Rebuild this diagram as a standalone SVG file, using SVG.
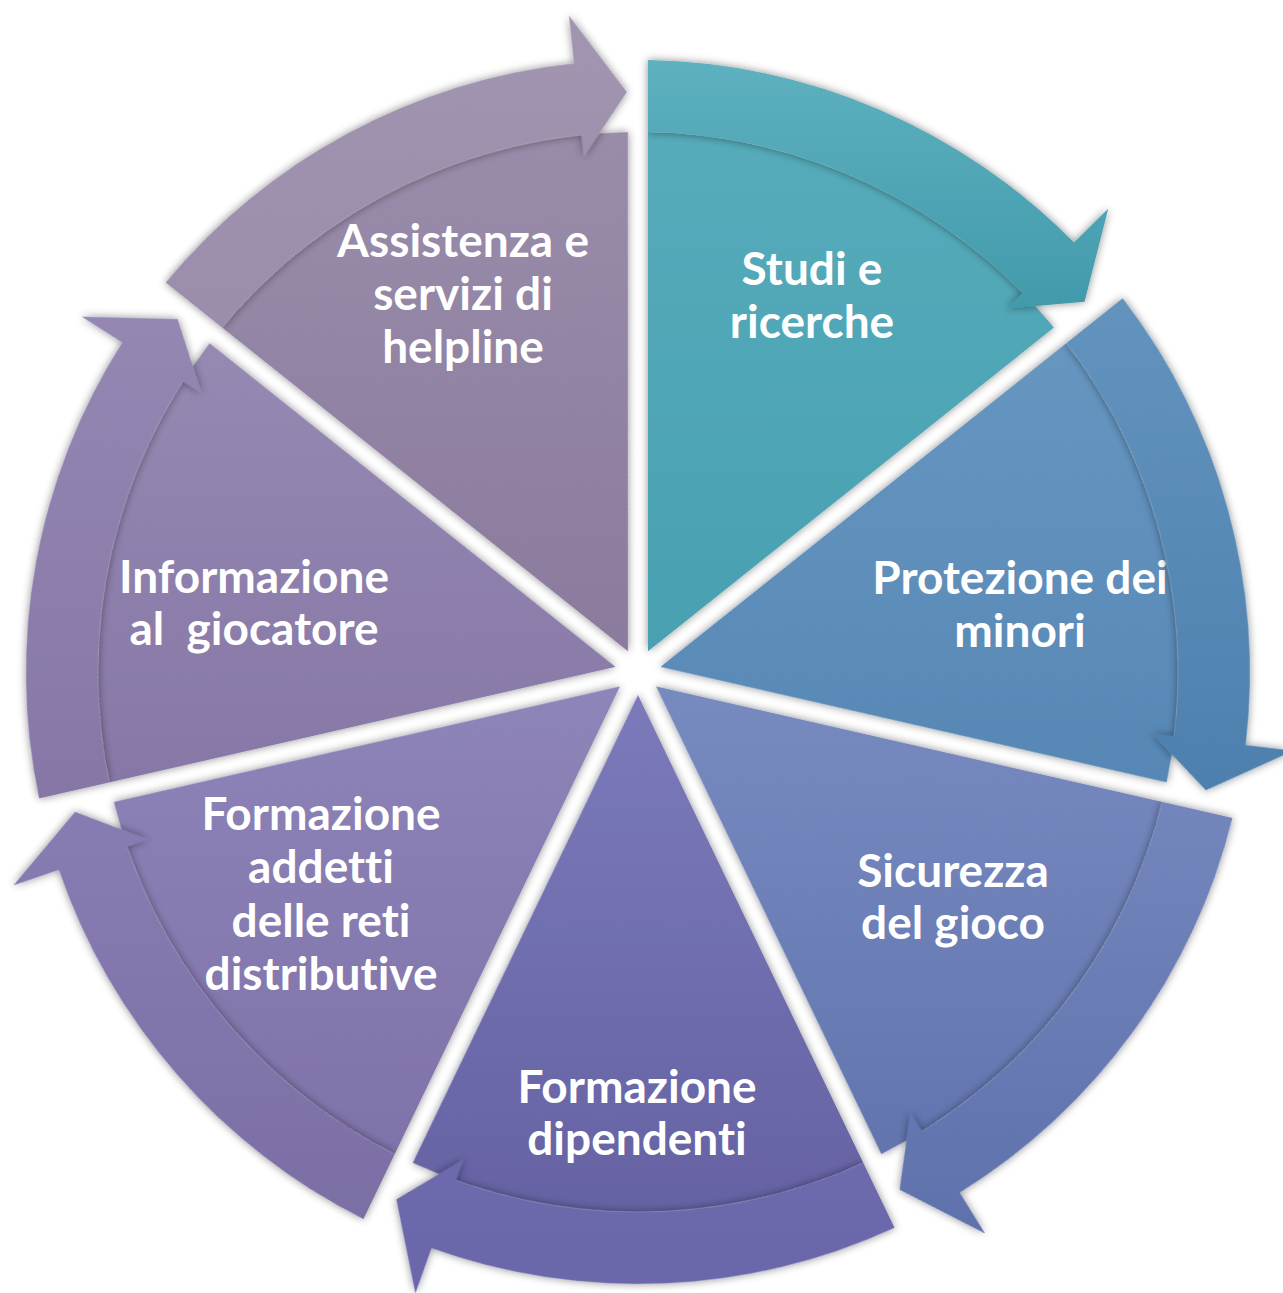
<svg xmlns="http://www.w3.org/2000/svg" xmlns:xlink="http://www.w3.org/1999/xlink" width="1283" height="1293" viewBox="0 0 1283 1293">
<defs>
<style>
.lbl{font-family:"Lato","Open Sans","DejaVu Sans",sans-serif;font-weight:700;font-size:46px;fill:#ffffff;text-anchor:middle;white-space:pre;font-variant-ligatures:none;font-feature-settings:"liga" 0,"clig" 0}
.seg{filter:url(#sh)}
</style>
<filter id="sh" x="-20%" y="-20%" width="140%" height="140%">
<feDropShadow dx="0" dy="0" stdDeviation="4.5" flood-color="#000000" flood-opacity="0.45"/>
</filter>
<path id="wedge" d="M 10,-20.77 L 10,-539.91 A 540 540 0 0 1 415.89,-344.45 Z"/>
<path id="arrow" d="M 10,-611.92 A 612 612 0 0 1 435.99,-429.50 L 470.18,-463.19 L 446.53,-370.17 L 369.02,-363.53 L 384.70,-378.97 A 540 540 0 0 0 10,-539.91 Z"/>
<linearGradient id="w0" gradientUnits="userSpaceOnUse" x1="0" y1="-612" x2="0" y2="-20"><stop offset="0" stop-color="#58adbc"/><stop offset="1" stop-color="#48a0b1"/></linearGradient>
<linearGradient id="a0" gradientUnits="userSpaceOnUse" x1="0" y1="-612" x2="0" y2="-300"><stop offset="0" stop-color="#5eb1bf"/><stop offset="1" stop-color="#3a94a6"/></linearGradient>
<linearGradient id="w1" gradientUnits="userSpaceOnUse" x1="0" y1="-382" x2="0" y2="137" gradientTransform="rotate(-51.4286)"><stop offset="0" stop-color="#6898c2"/><stop offset="1" stop-color="#5686b4"/></linearGradient>
<linearGradient id="a1" gradientUnits="userSpaceOnUse" x1="0" y1="-382" x2="0" y2="137" gradientTransform="rotate(-51.4286)"><stop offset="0" stop-color="#6394bf"/><stop offset="1" stop-color="#4d7fad"/></linearGradient>
<linearGradient id="w2" gradientUnits="userSpaceOnUse" x1="0" y1="0" x2="0" y2="560" gradientTransform="rotate(-102.857)"><stop offset="0" stop-color="#788bc1"/><stop offset="1" stop-color="#5f71ab"/></linearGradient>
<linearGradient id="a2" gradientUnits="userSpaceOnUse" x1="0" y1="0" x2="0" y2="560" gradientTransform="rotate(-102.857)"><stop offset="0" stop-color="#798cc1"/><stop offset="1" stop-color="#5f71ac"/></linearGradient>
<linearGradient id="w3" gradientUnits="userSpaceOnUse" x1="0" y1="20" x2="0" y2="612" gradientTransform="rotate(-154.286)"><stop offset="0" stop-color="#7b7aba"/><stop offset="1" stop-color="#625fa0"/></linearGradient>
<linearGradient id="a3" gradientUnits="userSpaceOnUse" x1="0" y1="20" x2="0" y2="612" gradientTransform="rotate(-154.286)"><stop offset="0" stop-color="#7776b7"/><stop offset="1" stop-color="#6a67aa"/></linearGradient>
<linearGradient id="w4" gradientUnits="userSpaceOnUse" x1="0" y1="0" x2="0" y2="560" gradientTransform="rotate(-205.714)"><stop offset="0" stop-color="#8e85b9"/><stop offset="1" stop-color="#7d6fa6"/></linearGradient>
<linearGradient id="a4" gradientUnits="userSpaceOnUse" x1="0" y1="0" x2="0" y2="560" gradientTransform="rotate(-205.714)"><stop offset="0" stop-color="#8b81b7"/><stop offset="1" stop-color="#7c6ea4"/></linearGradient>
<linearGradient id="w5" gradientUnits="userSpaceOnUse" x1="0" y1="-382" x2="0" y2="137" gradientTransform="rotate(-257.143)"><stop offset="0" stop-color="#978bb3"/><stop offset="1" stop-color="#8676a6"/></linearGradient>
<linearGradient id="a5" gradientUnits="userSpaceOnUse" x1="0" y1="-382" x2="0" y2="137" gradientTransform="rotate(-257.143)"><stop offset="0" stop-color="#9588b3"/><stop offset="1" stop-color="#8676a6"/></linearGradient>
<linearGradient id="w6" gradientUnits="userSpaceOnUse" x1="0" y1="-612" x2="0" y2="0" gradientTransform="rotate(-308.571)"><stop offset="0" stop-color="#9b8eab"/><stop offset="1" stop-color="#8a7a9d"/></linearGradient>
<linearGradient id="a6" gradientUnits="userSpaceOnUse" x1="0" y1="-612" x2="0" y2="0" gradientTransform="rotate(-308.571)"><stop offset="0" stop-color="#a194b0"/><stop offset="1" stop-color="#9285a6"/></linearGradient>
</defs>
<rect width="1283" height="1293" fill="#ffffff"/>
<g id="nodes">
<g id="node-studi"><use href="#wedge" class="seg" fill="url(#w0)" transform="translate(638,672) rotate(0)"/><text class="lbl" x="812" y="285">Studi e</text><text class="lbl" x="812" y="338">ricerche</text></g>
<g id="node-protezione"><use href="#wedge" class="seg" fill="url(#w1)" transform="translate(638,672) rotate(51.4286)"/><text class="lbl" x="1020" y="594">Protezione dei</text><text class="lbl" x="1020" y="647">minori</text></g>
<g id="node-sicurezza"><use href="#wedge" class="seg" fill="url(#w2)" transform="translate(638,672) rotate(102.857)"/><text class="lbl" x="953" y="887">Sicurezza</text><text class="lbl" x="953" y="939">del gioco</text></g>
<g id="node-formazione-dipendenti"><use href="#wedge" class="seg" fill="url(#w3)" transform="translate(638,672) rotate(154.286)"/><text class="lbl" x="637" y="1103">Formazione</text><text class="lbl" x="637" y="1155">dipendenti</text></g>
<g id="node-formazione-addetti"><use href="#wedge" class="seg" fill="url(#w4)" transform="translate(638,672) rotate(205.714)"/><text class="lbl" x="321" y="830">Formazione</text><text class="lbl" x="321" y="883">addetti</text><text class="lbl" x="321" y="937">delle reti</text><text class="lbl" x="321" y="990">distributive</text></g>
<g id="node-informazione"><use href="#wedge" class="seg" fill="url(#w5)" transform="translate(638,672) rotate(257.143)"/><text class="lbl" x="254" y="593">Informazione</text><text class="lbl" x="254" y="645" xml:space="preserve">al  giocatore</text></g>
<g id="node-assistenza"><use href="#wedge" class="seg" fill="url(#w6)" transform="translate(638,672) rotate(308.571)"/><text class="lbl" x="463" y="257">Assistenza e</text><text class="lbl" x="463" y="310">servizi di</text><text class="lbl" x="463" y="363">helpline</text></g>
</g>
<g id="connectors">
<use href="#arrow" class="seg" fill="url(#a0)" transform="translate(638,672) rotate(0)"/>
<use href="#arrow" class="seg" fill="url(#a1)" transform="translate(638,672) rotate(51.4286)"/>
<use href="#arrow" class="seg" fill="url(#a2)" transform="translate(638,672) rotate(102.857)"/>
<use href="#arrow" class="seg" fill="url(#a3)" transform="translate(638,672) rotate(154.286)"/>
<use href="#arrow" class="seg" fill="url(#a4)" transform="translate(638,672) rotate(205.714)"/>
<use href="#arrow" class="seg" fill="url(#a5)" transform="translate(638,672) rotate(257.143)"/>
<use href="#arrow" class="seg" fill="url(#a6)" transform="translate(638,672) rotate(308.571)"/>
</g>
</svg>
